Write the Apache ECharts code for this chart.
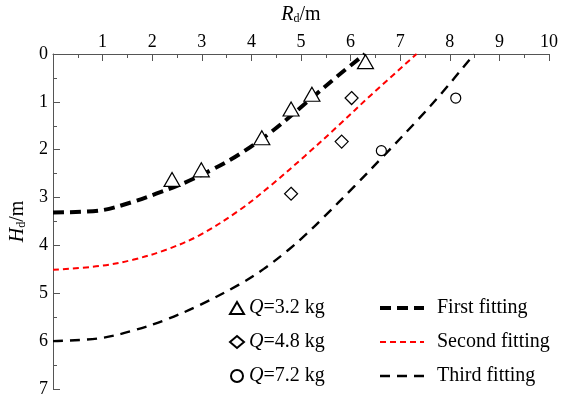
<!DOCTYPE html>
<html><head><meta charset="utf-8">
<script src="https://cdn.jsdelivr.net/npm/echarts@6/dist/echarts.min.js"></script>
<style>html,body{margin:0;padding:0;background:#fff}#c{width:561px;height:398px}</style>
</head><body><div id="c"></div>
<script>
// tick labels
const xTickLabels = ['', '1', '2', '3', '4', '5', '6', '7', '8', '9', '10'];
const yTickLabels = ['0', '1', '2', '3', '4', '5', '6', '7'];

// measured points
const q32R = [2.40, 2.99, 4.21, 4.80, 5.22, 6.30];
const q32H = [2.62, 2.42, 1.75, 1.15, 0.84, 0.16];
const q48R = [4.80, 5.82, 6.02];
const q48H = [2.92, 1.83, 0.92];
const q72R = [6.62, 8.12];
const q72H = [2.02, 0.92];

// fitted curves
const fit1R = [0, 0.94, 1.61, 2.08, 2.61, 3.20, 3.75, 4.41, 5.08, 5.75, 6.29];
const fit1H = [3.31, 3.27, 3.09, 2.92, 2.71, 2.42, 2.10, 1.62, 1.04, 0.45, 0];
const fit2R = [0, 0.94, 1.61, 2.28, 2.95, 3.75, 4.41, 5.08, 5.75, 6.42, 7.33];
const fit2H = [4.51, 4.43, 4.30, 4.09, 3.79, 3.27, 2.73, 2.13, 1.50, 0.85, 0];
const fit3R = [0, 0.94, 1.61, 2.28, 2.95, 3.75, 4.25, 4.75, 5.10, 5.42, 6.09, 6.62, 7.35, 7.86, 8.49];
const fit3H = [6.00, 5.94, 5.78, 5.55, 5.25, 4.82, 4.49, 4.09, 3.77, 3.45, 2.75, 2.18, 1.38, 0.79, 0];

const seriesNames = ['Q=3.2 kg', 'Q=4.8 kg', 'Q=7.2 kg'];
const fitNames = ['First fitting', 'Second fitting', 'Third fitting'];

const zip = (a, b) => a.map((v, i) => [v, b[i]]);
const FONT = '"Liberation Serif", "DejaVu Serif", serif';
const axisCol = '#555';

const fitStyles = [
  { color: '#000', width: 4, type: [11, 6] },
  { color: '#f00', width: 2, type: [6, 4] },
  { color: '#000', width: 2.4, type: [10, 7] }
];

const chart = echarts.init(document.getElementById('c'));
const ptStyle = { color: '#fff', borderColor: '#000', borderWidth: 1.2, opacity: 1 };
const hideSym = { color: 'rgba(0,0,0,0)', borderColor: 'rgba(0,0,0,0)', borderWidth: 0 };
const nameRich = {
  i: { fontStyle: 'italic', fontSize: 20, fontFamily: FONT, color: '#000' },
  s: { fontSize: 12, fontFamily: FONT, color: '#000', padding: [8, 0, 0, 0] },
  n: { fontSize: 20, fontFamily: FONT, color: '#000' }
};

chart.setOption({
  animation: false,
  backgroundColor: '#fff',
  grid: { left: 53, right: 9, top: 54, bottom: 6, containLabel: false },
  xAxis: {
    type: 'value', position: 'top', min: 0, max: 10, interval: 1,
    name: '{i|R}{s|d}{n|/m}', nameLocation: 'middle', nameGap: 29,
    nameTextStyle: { fontFamily: FONT, fontSize: 20, color: '#000', rich: nameRich },
    axisLine: { show: true, lineStyle: { color: axisCol, width: 1 } },
    axisTick: { show: true, inside: true, length: 7, lineStyle: { color: axisCol } },
    minorTick: { show: true, splitNumber: 2, length: 4, lineStyle: { color: axisCol } },
    splitLine: { show: false },
    axisLabel: { fontFamily: FONT, fontSize: 18, color: '#000', margin: 3,
      formatter: v => xTickLabels[Math.round(v)] }
  },
  yAxis: {
    type: 'value', inverse: true, min: 0, max: 7, interval: 1,
    name: '{i|H}{s|d}{n|/m}', nameLocation: 'middle', nameGap: 14, nameRotate: 90,
    nameTextStyle: { fontFamily: FONT, fontSize: 20, color: '#000', rich: nameRich },
    axisLine: { show: true, lineStyle: { color: axisCol, width: 1 } },
    axisTick: { show: true, inside: true, length: 7, lineStyle: { color: axisCol } },
    minorTick: { show: true, splitNumber: 2, length: 4, lineStyle: { color: axisCol } },
    splitLine: { show: false },
    axisLabel: { fontFamily: FONT, fontSize: 18, color: '#000', margin: 5,
      formatter: v => yTickLabels[Math.round(v)] }
  },
  legend: [
    {
      orient: 'vertical', left: 229, top: 298, height: 100, padding: 0,
      itemWidth: 14, itemHeight: 12, itemGap: 14,
      data: seriesNames,
      formatter: n => '{i|Q}{n|' + n.slice(1) + '}',
      textStyle: { fontFamily: FONT, fontSize: 20, color: '#000', lineHeight: 20,
        rich: { i: { fontStyle: 'italic', fontSize: 20, fontFamily: FONT, color: '#000', lineHeight: 20 },
                n: { fontSize: 20, fontFamily: FONT, color: '#000', lineHeight: 20 } } }
    },
    {
      orient: 'vertical', left: 378, top: 298, height: 100, padding: 0,
      itemWidth: 44, itemHeight: 12, itemGap: 14,
      data: fitNames.map((n, i) => ({ name: n, itemStyle: hideSym, lineStyle: fitStyles[i] })),
      textStyle: { fontFamily: FONT, fontSize: 20, color: '#000', lineHeight: 20, padding: [0, 0, 0, 8] }
    }
  ],
  series: [
    { name: fitNames[0], type: 'line', data: zip(fit1R, fit1H), smooth: 0.35,
      symbol: 'none', itemStyle: { color: '#000' }, lineStyle: fitStyles[0], z: 3 },
    { name: fitNames[1], type: 'line', data: zip(fit2R, fit2H), smooth: 0.35,
      symbol: 'none', itemStyle: { color: '#f00' }, lineStyle: fitStyles[1], z: 3 },
    { name: fitNames[2], type: 'line', data: zip(fit3R, fit3H), smooth: 0.35,
      symbol: 'none', itemStyle: { color: '#000' }, lineStyle: fitStyles[2], z: 3 },
    { name: seriesNames[0], type: 'scatter', data: zip(q32R, q32H), symbol: 'triangle',
      symbolSize: [16, 14], itemStyle: ptStyle, z: 4 },
    { name: seriesNames[1], type: 'scatter', data: zip(q48R, q48H), symbol: 'diamond',
      symbolSize: 13, itemStyle: ptStyle, z: 4 },
    { name: seriesNames[2], type: 'scatter', data: zip(q72R, q72H), symbol: 'circle',
      symbolSize: 10, itemStyle: ptStyle, z: 4 }
  ]
});
</script></body></html>
